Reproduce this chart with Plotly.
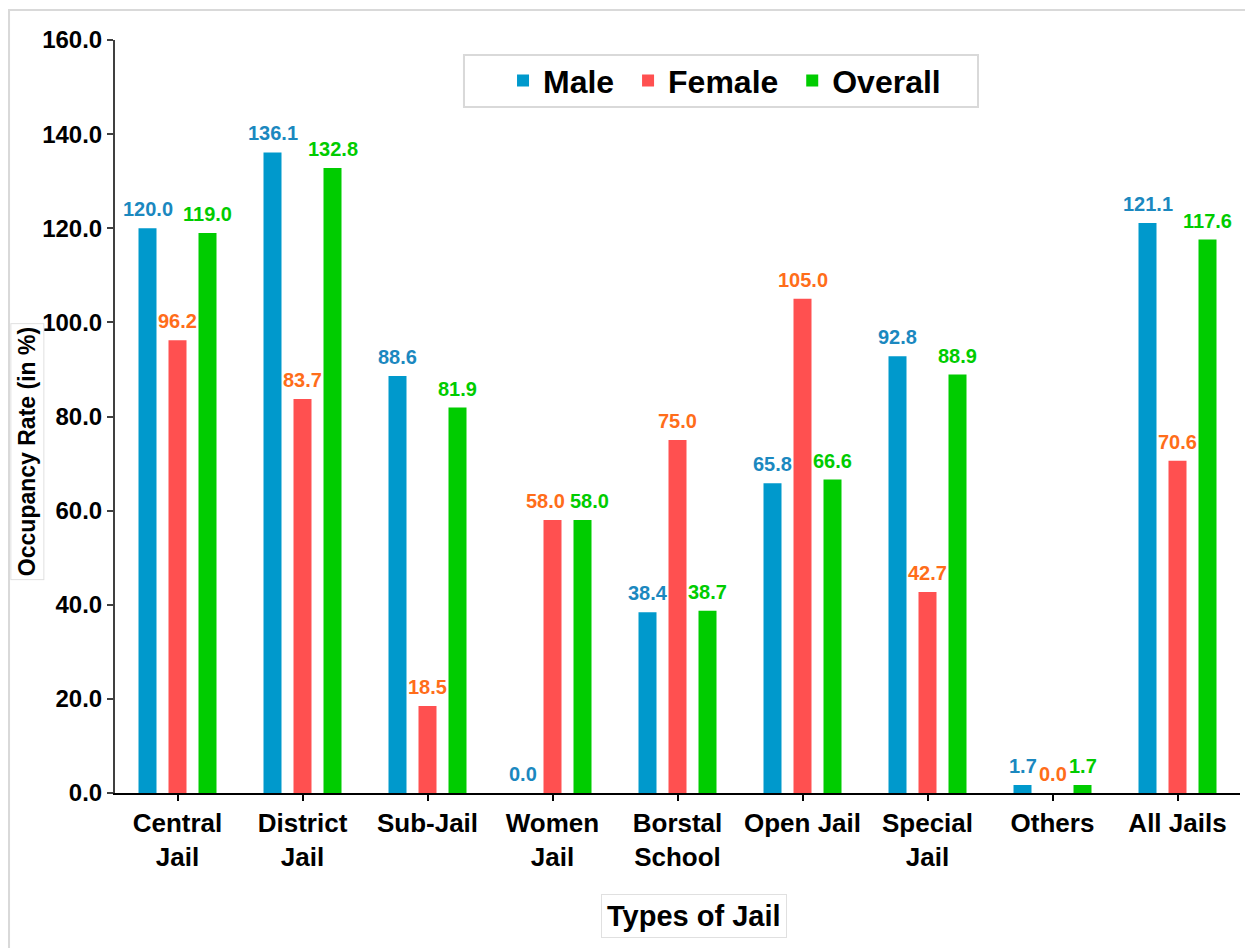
import plotly.graph_objects as go

categories = ["Central<br>Jail", "District<br>Jail", "Sub-Jail", "Women<br>Jail", "Borstal<br>School",
              "Open Jail", "Special<br>Jail", "Others", "All Jails"]
male = [120.0, 136.1, 88.6, 0.0, 38.4, 65.8, 92.8, 1.7, 121.1]
female = [96.2, 83.7, 18.5, 58.0, 75.0, 105.0, 42.7, 0.0, 70.6]
overall = [119.0, 132.8, 81.9, 58.0, 38.7, 66.6, 88.9, 1.7, 117.6]
y_ticks = [0, 20, 40, 60, 80, 100, 120, 140, 160]

series = [
    ("Male", male, "#0099CC", "#1B88BF"),
    ("Female", female, "#FF5050", "#FF6D1A"),
    ("Overall", overall, "#00CC00", "#00CC00"),
]

FONT = "Liberation Sans, Arial, sans-serif"
BAR_PITCH = 30  # px between bar centres within a group
fig = go.Figure()
annotations = []
for i, (name, vals, col, tcol) in enumerate(series):
    legend_name = f"<b>{name}</b>" + ("\u00a0" if i < 2 else "")
    fig.add_trace(go.Bar(
        name=legend_name, x=categories, y=vals, marker=dict(color=col, line=dict(width=0)),
    ))
    for j, (c, v) in enumerate(zip(categories, vals)):
        nudge = 0
        if c.startswith("Women") and i > 0:
            nudge = -7 if i == 1 else 7
        annotations.append(dict(
            x=c, y=v, xref="x", yref="y", text=f"<b>{v:.1f}</b>", showarrow=False,
            xanchor="center", yanchor="bottom", xshift=(i - 1) * BAR_PITCH + nudge, yshift=6,
            font=dict(family=FONT, size=20, color=tcol)))

annotations += [
    dict(text="<b>Occupancy Rate (in %)</b>", xref="paper", yref="paper", x=-0.078, y=0.453,
         xanchor="center", yanchor="middle",
         textangle=-90, showarrow=False, font=dict(family=FONT, size=23, color="black"),
         bordercolor="#e0e0e0", borderwidth=1, borderpad=3, bgcolor="white"),
    dict(text="<b>Types of Jail</b>", xref="paper", yref="paper", x=0.5147, y=-0.163,
         xanchor="center", yanchor="middle",
         showarrow=False, font=dict(family=FONT, size=29, color="black"),
         bordercolor="#e0e0e0", borderwidth=1, borderpad=5, bgcolor="white"),
]

fig.update_layout(
    width=1245, height=940,
    margin=dict(l=107, r=13, t=32, b=155, autoexpand=False),
    paper_bgcolor="white", plot_bgcolor="white",
    barmode="group", bargap=0.28, bargroupgap=0.4,
    font=dict(family=FONT, color="black"),
    legend=dict(orientation="h", x=0.5418, xanchor="center", y=0.946, yanchor="middle",
                bgcolor="rgba(0,0,0,0)", borderwidth=0,
                font=dict(family=FONT, size=32, color="black"),
                itemwidth=30, traceorder="normal"),
    showlegend=True,
    xaxis=dict(showline=True, linecolor="black", linewidth=2, ticks="outside", ticklen=6,
               tickcolor="black", tickwidth=2, automargin=False,
               tickvals=categories, ticktext=[f"<b>{c}</b>" for c in categories],
               tickfont=dict(family=FONT, size=26, color="black"), showgrid=False),
    yaxis=dict(range=[0, 160], showline=True, linecolor="#404040", automargin=False,
               tickvals=y_ticks, ticktext=[f"<b>{v:.1f}</b>" for v in y_ticks],
               linewidth=2, ticks="outside", ticklen=6, tickcolor="#404040", tickwidth=2,
               tickfont=dict(family=FONT, size=24, color="black"), showgrid=False, zeroline=False),
    annotations=annotations,
    shapes=[
        dict(type="rect", xref="paper", yref="paper", x0=-0.0942, x1=1.02, y0=-0.23, y1=1.0398,
             line=dict(color="#d9d9d9", width=2), layer="below"),
        dict(type="rect", xref="paper", yref="paper", x0=0.3102, x1=0.7671, y0=0.911, y1=0.980,
             line=dict(color="#d9d9d9", width=2), fillcolor="white", layer="below"),
    ],
)

fig.write_html("out.html")
